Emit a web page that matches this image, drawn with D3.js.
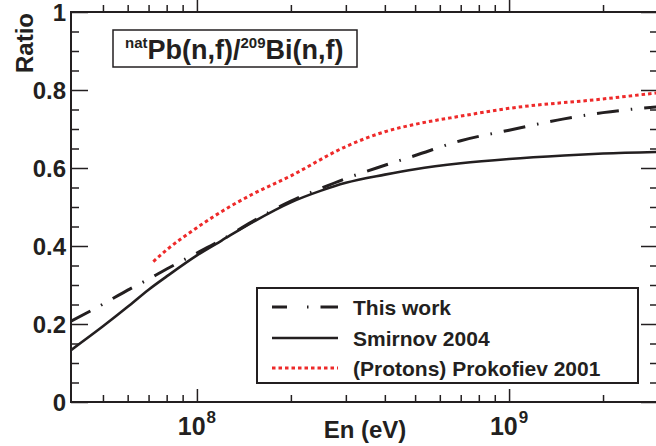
<!DOCTYPE html>
<html>
<head>
<meta charset="utf-8">
<script src="https://cdn.jsdelivr.net/npm/d3@7"></script>
<style>
  html, body { margin: 0; padding: 0; background: #fff; }
  svg text { font-family: "Liberation Sans", Arial, Helvetica, sans-serif; font-weight: bold; fill: #231f20; }
</style>
</head>
<body>
<svg id="chart" width="656" height="446"></svg>
<script>
// ratio values
const thisWorkE = [3.95e7, 5e7, 6e7, 7e7, 8e7, 1e8, 1.2e8, 1.5e8, 2e8, 2.5e8, 3e8, 4e8, 5e8, 7e8, 1e9, 1.5e9, 2e9, 3e9];
const thisWorkR = [0.207, 0.251, 0.287, 0.315, 0.341, 0.382, 0.416, 0.462, 0.515, 0.548, 0.573, 0.607, 0.632, 0.67, 0.697, 0.726, 0.742, 0.757];

const smirnovE = [3.95e7, 5e7, 6e7, 7e7, 8e7, 1e8, 1.2e8, 1.5e8, 2e8, 2.5e8, 3e8, 4e8, 5e8, 7e8, 1e9, 1.5e9, 2e9, 3e9];
const smirnovR = [0.133, 0.194, 0.244, 0.288, 0.322, 0.376, 0.414, 0.46, 0.512, 0.542, 0.562, 0.583, 0.597, 0.612, 0.623, 0.632, 0.637, 0.641];

const prokofievE = [7.25e7, 8e7, 1e8, 1.25e8, 1.5e8, 2e8, 3e8, 4e8, 5e8, 7e8, 1e9, 2e9, 3e9];
const prokofievR = [0.36, 0.39, 0.447, 0.497, 0.532, 0.58, 0.655, 0.693, 0.712, 0.733, 0.753, 0.777, 0.793];

const xMajorTicks = [1e8, 1e9];
const xTickLabels = [["10", "8"], ["10", "9"]];
const xMinorTicks = [5e7, 6e7, 7e7, 8e7, 9e7, 2e8, 3e8, 4e8, 5e8, 6e8, 7e8, 8e8, 9e8, 2e9, 3e9];
const yMajorTicks = [0, 0.2, 0.4, 0.6, 0.8, 1];
const yTickLabels = ["0", "0.2", "0.4", "0.6", "0.8", "1"];
const yMinorTicks = d3.range(0, 20).map(i => i * 0.05).filter(v => Math.round(v * 100) % 20 !== 0);

const legendLabels = ["This work", "Smirnov 2004", "(Protons) Prokofiev 2001"];

const svg = d3.select("#chart");
const plotLeft = 71, plotRight = 658, plotTop = 12, plotBottom = 402;

const x = d3.scaleLog().domain([3.95e7, 3e9]).range([plotLeft, plotRight]);
const y = d3.scaleLinear().domain([0, 1]).range([plotBottom, plotTop]);

svg.append("rect").attr("width", 656).attr("height", 446).attr("fill", "#fff");

svg.append("clipPath").attr("id", "plot-clip")
  .append("rect").attr("x", plotLeft).attr("y", plotTop)
  .attr("width", plotRight - plotLeft).attr("height", plotBottom - plotTop);

// axis ticks (inward, like ROOT)
function ticks(axis, values, size) {
  return axis.tickValues(values).tickSize(size).tickFormat("");
}
const axisColor = "#231f20";

[[d3.axisBottom, plotBottom, -13, xMajorTicks], [d3.axisBottom, plotBottom, -7, xMinorTicks],
 [d3.axisTop, plotTop, 13, xMajorTicks], [d3.axisTop, plotTop, 7, xMinorTicks]].forEach(([fn, pos, size, vals]) => {
  const g = svg.append("g").attr("transform", "translate(0," + pos + ")")
    .call(ticks(fn(x), vals, size));
  g.select(".domain").remove();
  g.selectAll("line").attr("stroke", axisColor).attr("stroke-width", 1.5);
});

[[d3.axisLeft, plotLeft, -17, yMajorTicks], [d3.axisLeft, plotLeft, -8, yMinorTicks],
 [d3.axisRight, plotRight, -17, yMajorTicks], [d3.axisRight, plotRight, -8, yMinorTicks]].forEach(([fn, pos, size, vals]) => {
  const g = svg.append("g").attr("transform", "translate(" + pos + ",0)")
    .call(ticks(fn(y), vals, size));
  g.select(".domain").remove();
  g.selectAll("line").attr("stroke", axisColor).attr("stroke-width", 1.5);
});

// frame
svg.append("rect")
  .attr("x", plotLeft).attr("y", plotTop).attr("width", plotRight - plotLeft).attr("height", plotBottom - plotTop)
  .attr("fill", "none").attr("stroke", axisColor).attr("stroke-width", 2);

// tick labels
svg.append("g").selectAll("text").data(yMajorTicks).join("text")
  .attr("x", 66).attr("y", d => y(d)).attr("dy", "0.36em")
  .attr("text-anchor", "end").attr("font-size", 24)
  .text((d, i) => yTickLabels[i]);

const xl = svg.append("g").selectAll("text").data(xMajorTicks).join("text")
  .attr("x", d => x(d)).attr("y", 435)
  .attr("text-anchor", "middle").attr("font-size", 25);
xl.append("tspan").text((d, i) => xTickLabels[i][0]);
xl.append("tspan").attr("font-size", 17).attr("dy", -12).attr("dx", 1).text((d, i) => xTickLabels[i][1]);

// axis titles
svg.append("text").attr("x", 365).attr("y", 438).attr("text-anchor", "middle")
  .attr("font-size", 24).text("En (eV)");
svg.append("text").attr("transform", "translate(33,13) rotate(-90)")
  .attr("text-anchor", "end").attr("font-size", 24).text("Ratio");

// curves
const line = d3.line().x(d => x(d[0])).y(d => y(d[1])).curve(d3.curveMonotoneX);
const plot = svg.append("g").attr("clip-path", "url(#plot-clip)");

const series = [
  { e: thisWorkE, r: thisWorkR, color: "#231f20", width: 3, dash: "22,12,1.5,12" },
  { e: smirnovE, r: smirnovR, color: "#231f20", width: 2.6, dash: null },
  { e: prokofievE, r: prokofievR, color: "#ee2a2a", width: 3, dash: "3.5,3" }
];

series.forEach(s => {
  plot.append("path")
    .datum(s.e.map((e, i) => [e, s.r[i]]))
    .attr("fill", "none")
    .attr("stroke", s.color)
    .attr("stroke-width", s.width)
    .attr("stroke-dasharray", s.dash)
    .attr("d", line);
});

// title box
svg.append("rect").attr("x", 113).attr("y", 30).attr("width", 244).attr("height", 37)
  .attr("fill", "#fff").attr("stroke", axisColor).attr("stroke-width", 1.5);
const title = svg.append("text").attr("x", 125).attr("y", 59).attr("font-size", 27);
title.append("tspan").attr("font-size", 15).attr("dy", -11).text("nat");
title.append("tspan").attr("dy", 11).text("Pb(n,f)/");
title.append("tspan").attr("font-size", 15).attr("dy", -11).text("209");
title.append("tspan").attr("dy", 11).text("Bi(n,f)");

// legend
const legend = svg.append("g");
legend.append("rect").attr("x", 257).attr("y", 288).attr("width", 381).attr("height", 95)
  .attr("fill", "#fff").attr("stroke", axisColor).attr("stroke-width", 2);
const rows = [307, 338, 368];
series.forEach((s, i) => {
  legend.append("line")
    .attr("x1", 272).attr("x2", 338).attr("y1", rows[i]).attr("y2", rows[i])
    .attr("stroke", s.color).attr("stroke-width", s.width)
    .attr("stroke-dasharray", i === 0 ? "15,20,1.5,12,18" : s.dash);
  legend.append("text").attr("x", 353).attr("y", rows[i]).attr("dy", "0.36em")
    .attr("font-size", 21).text(legendLabels[i]);
});
</script>
</body>
</html>
